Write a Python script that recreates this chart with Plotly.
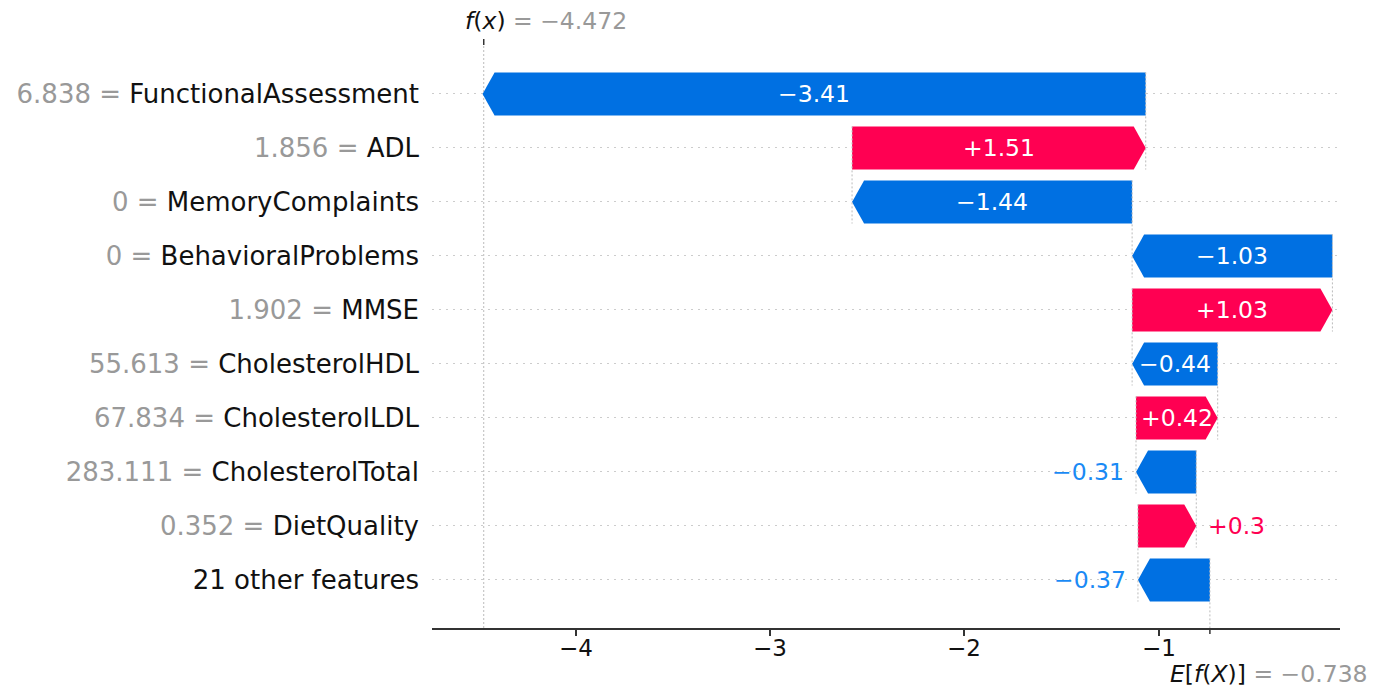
import plotly.graph_objects as go

# Waterfall of feature contributions for a single prediction (top row first)
features = ["FunctionalAssessment", "ADL", "MemoryComplaints", "BehavioralProblems",
            "MMSE", "CholesterolHDL", "CholesterolLDL", "CholesterolTotal",
            "DietQuality", "21 other features"]
feature_values = ["6.838", "1.856", "0", "0", "1.902", "55.613", "67.834",
                  "283.111", "0.352", None]
shap_values = [-3.41, 1.51, -1.44, -1.03, 1.03, -0.44, 0.42, -0.31, 0.30, -0.37]
base_value = -0.738
fx_value = -4.472
x_ticks = [-4, -3, -2, -1]

BLUE_BAR = "#0070e2"
RED_BAR = "#ff0052"
BLUE_TXT = "#1a8af5"
RED_TXT = "#ff0052"
GRAY = "#999999"
FONT = "DejaVu Sans"

W, H = 1375, 687
M_L, M_R, M_T, M_B = 432, 35, 45, 59
X_RANGE = [-4.738, -0.069]
Y_RANGE = [-0.889, 9.907]
px_per_unit = (W - M_L - M_R) / (X_RANGE[1] - X_RANGE[0])
plot_h = H - M_T - M_B

HALF_H = 0.4             # half bar height in row units
HEAD = 12 / px_per_unit  # arrow head length in data units
BAR_FS = 23.5


def fmt_signed(v):
    s = f"{abs(v):.2f}".rstrip("0").rstrip(".")
    return ("+" if v > 0 else "\u2212") + s


def fmt_plain(v):
    s = f"{abs(v):.3f}".rstrip("0").rstrip(".")
    return ("\u2212" if v < 0 else "") + s


def text_width_px(s, size):
    widths = {"\u2212": 0.838, "+": 0.838, ".": 0.318}
    return sum(widths.get(c, 0.636) for c in s) * size


n = len(features)
rows = list(range(n - 1, -1, -1))  # top feature gets highest row index

fig = go.Figure()
annotations = []
shapes = []

# Accumulate from the bottom row upward, starting at the expected value
start = base_value
for k in range(n - 1, -1, -1):
    y = rows[k]
    v = shap_values[k]
    end = start + v
    color = RED_BAR if v > 0 else BLUE_BAR
    head = min(HEAD, abs(v))
    if v > 0:
        xs = [start, start, end - head, end, end - head, start]
    else:
        xs = [start, start, end + head, end, end + head, start]
    ys = [y - HALF_H, y + HALF_H, y + HALF_H, y, y - HALF_H, y - HALF_H]
    fig.add_trace(go.Scatter(x=xs, y=ys, mode="lines", fill="toself",
                             fillcolor=color, line=dict(width=0, color=color),
                             hoverinfo="skip", showlegend=False))

    # dotted connector at the bar's base down to the row below
    fig.add_trace(go.Scatter(x=[start, start], y=[y + HALF_H, y - 1 - HALF_H],
                             mode="lines", hoverinfo="skip", showlegend=False,
                             line=dict(color="#bbbbbb", width=1, dash="2px,2px")))

    label = fmt_signed(v)
    bar_px = abs(v) * px_per_unit
    if bar_px > text_width_px(label, BAR_FS) + 8:
        annotations.append(dict(x=(start + end) / 2, y=y, xref="x", yref="y",
                                text=label, showarrow=False,
                                font=dict(family=FONT, size=BAR_FS, color="white")))
    elif v < 0:
        annotations.append(dict(x=end, y=y, xref="x", yref="y", text=label,
                                showarrow=False, xanchor="right", xshift=-10,
                                font=dict(family=FONT, size=BAR_FS, color=BLUE_TXT)))
    else:
        annotations.append(dict(x=end, y=y, xref="x", yref="y", text=label,
                                showarrow=False, xanchor="left", xshift=10,
                                font=dict(family=FONT, size=BAR_FS, color=RED_TXT)))
    start = end

# Row labels: "value = feature"
tick_text = []
for k in range(n):
    if feature_values[k] is None:
        tick_text.append(features[k])
    else:
        tick_text.append(f"<span style='color:{GRAY}'>{feature_values[k]} = </span>{features[k]}")

# x tick labels sit close under the axis line
for t in x_ticks:
    annotations.append(dict(x=t, y=0, xref="x", yref="paper", yanchor="middle",
                            yshift=-20, showarrow=False, text=fmt_plain(t),
                            font=dict(family=FONT, size=23, color="#111111")))

# f(x) reference line through the whole plot and its top tick
shapes.append(dict(type="line", xref="x", yref="paper", x0=fx_value, x1=fx_value,
                   y0=0, y1=1, layer="below",
                   line=dict(color="#bbbbbb", width=1, dash="2px,2px")))
shapes.append(dict(type="line", xref="x", yref="paper", x0=fx_value, x1=fx_value,
                   y0=1, y1=1 + 6 / plot_h, line=dict(color="#333333", width=1.5)))
# E[f(X)] bottom tick
shapes.append(dict(type="line", xref="x", yref="paper", x0=base_value, x1=base_value,
                   y0=0, y1=-6 / plot_h, line=dict(color="#333333", width=1.5)))

annotations.append(dict(x=fx_value, y=1, xref="x", yref="paper", xanchor="left",
                        yanchor="bottom", xshift=-21, yshift=8, showarrow=False,
                        text=f"<i>f</i>(<i>x</i>) <span style='color:{GRAY}'>= {fmt_plain(fx_value)}</span>",
                        font=dict(family=FONT, size=23.5, color="#111111")))
annotations.append(dict(x=base_value, y=0, xref="x", yref="paper", xanchor="left",
                        yanchor="top", xshift=-42, yshift=-30, showarrow=False,
                        text=f"<i>E</i>[<i>f</i>(<i>X</i>)] <span style='color:{GRAY}'>= {fmt_plain(base_value)}</span>",
                        font=dict(family=FONT, size=23.5, color="#111111")))

fig.update_layout(
    width=W, height=H,
    margin=dict(l=M_L, r=M_R, t=M_T, b=M_B),
    paper_bgcolor="white", plot_bgcolor="white",
    font=dict(family=FONT, color="#111111"),
    shapes=shapes, annotations=annotations,
    xaxis=dict(range=X_RANGE, tickvals=x_ticks, showticklabels=False,
               ticks="outside", ticklen=6, tickwidth=1.5, tickcolor="#333333",
               showline=True, linecolor="#333333", linewidth=1.5,
               showgrid=False, zeroline=False),
    yaxis=dict(range=Y_RANGE, tickvals=rows, ticktext=tick_text,
               ticks="", showline=False, zeroline=False,
               showgrid=True, gridcolor="#cccccc", gridwidth=1, griddash="2px,5px",
               ticklabelstandoff=12,
               tickfont=dict(family=FONT, size=26, color="#111111")),
)

fig.write_html("out.html")
